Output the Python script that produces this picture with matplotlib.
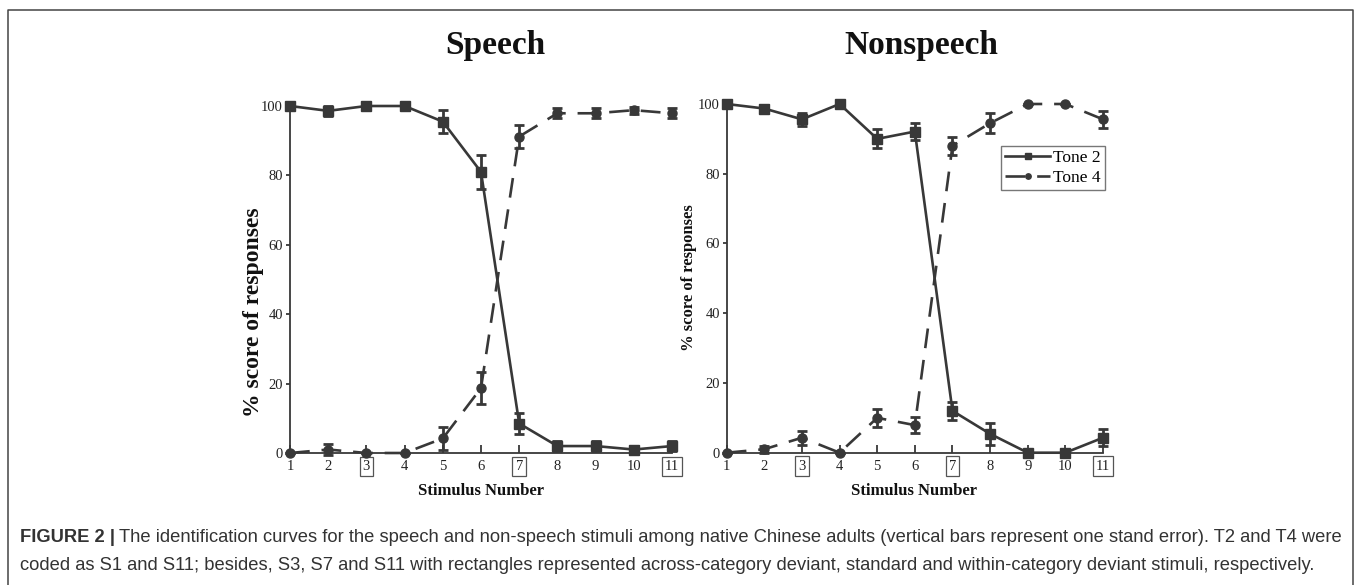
import matplotlib
matplotlib.use("Agg")
import matplotlib.pyplot as plt
from matplotlib.lines import Line2D
from matplotlib.text import Annotation

# identification scores (% responses) per stimulus, with standard errors
stimuli = [1, 2, 3, 4, 5, 6, 7, 8, 9, 10, 11]
boxed = [3, 7, 11]

speech_t2 = [100, 98.6, 100, 100, 95.5, 81, 8.5, 2, 2, 1, 2]
speech_t2_se = [0, 1.4, 0.5, 0, 3.4, 5, 3.1, 1.5, 1.5, 1, 1.5]
speech_t4 = [0, 1, 0, 0, 4.2, 18.7, 91.2, 97.9, 97.9, 98.8, 97.9]
speech_t4_se = [0, 1.5, 0, 0, 3.4, 4.6, 3.3, 1.5, 1.5, 1, 1.5]

nonsp_t2 = [100, 98.7, 95.6, 100, 90, 92.1, 12, 5.4, 0, 0, 4.3]
nonsp_t2_se = [0, 1, 1.9, 0, 2.7, 2.4, 2.6, 3.1, 0, 0, 2.5]
nonsp_t4 = [0, 1, 4.3, 0, 10, 7.9, 88, 94.5, 100, 100, 95.6]
nonsp_t4_se = [0, 1, 2, 0, 2.5, 2.2, 2.5, 2.9, 0, 0, 2.5]

ink = "#383838"
serif = "Liberation Serif"

W, H = 1358, 585
fig = plt.figure(figsize=(W / 100, H / 100), dpi=100)

def px(x0, y0, x1, y1):
    return [x0 / W, 1 - y1 / H, (x1 - x0) / W, (y1 - y0) / H]

def panel(rect, t2, t2_se, t4, t4_se):
    ax = fig.add_axes(rect)
    c4 = ax.errorbar(stimuli, t4, yerr=t4_se, color=ink, lw=1.9, dashes=(7.5, 4.5),
                     marker="o", ms=6.5, capsize=3.6, capthick=2, elinewidth=2,
                     clip_on=False, zorder=3)
    c2 = ax.errorbar(stimuli, t2, yerr=t2_se, color=ink, lw=1.9,
                     marker="s", ms=6.5, capsize=3.6, capthick=2, elinewidth=2,
                     clip_on=False, zorder=4)
    ax.set_xlim(1, 11)
    ax.set_ylim(0, 100)
    ax.set_xticks(stimuli)
    ax.set_yticks([0, 20, 40, 60, 80, 100])
    for s in ["top", "right"]:
        ax.spines[s].set_visible(False)
    for s in ["left", "bottom"]:
        ax.spines[s].set_color(ink)
        ax.spines[s].set_linewidth(1.3)
    ax.tick_params(axis="x", direction="in", length=6, width=1.3, color=ink,
                   labelsize=10.5, labelcolor="#222", pad=5)
    ax.tick_params(axis="y", direction="out", length=3, width=1.3, color=ink,
                   labelsize=10.5, labelcolor="#222", pad=2)
    for lab in ax.get_xticklabels() + ax.get_yticklabels():
        lab.set_fontfamily(serif)
    for lab, s in zip(ax.get_xticklabels(), stimuli):
        if s in boxed:
            lab.set_bbox(dict(boxstyle="square,pad=0.22", fc="none",
                              ec="#555", lw=0.9))
    return ax, c2, c4

ax1, _, _ = panel(px(290, 106, 672, 453), speech_t2, speech_t2_se, speech_t4, speech_t4_se)
ax2, c2, c4 = panel(px(726.7, 104, 1103, 452.7), nonsp_t2, nonsp_t2_se, nonsp_t4, nonsp_t4_se)

leg = ax2.legend([c2.lines[0], c4.lines[0]], ["Tone 2", "Tone 4"],
                 loc="upper right", bbox_to_anchor=(1.005, 0.88),
                 borderaxespad=0, frameon=True, fancybox=False, edgecolor="#555",
                 handlelength=2.6, handletextpad=0.15, borderpad=0.25,
                 labelspacing=0.2, markerscale=0.6,
                 prop={"family": serif, "size": 12.5})
leg.get_frame().set_linewidth(1.0)

# panel titles and axis labels
fig.text(495 / W, 1 - 54 / H, "Speech", family=serif, weight="bold", size=24,
         ha="center", va="baseline", color="#111")
fig.text(921 / W, 1 - 54 / H, "Nonspeech", family=serif, weight="bold", size=24,
         ha="center", va="baseline", color="#111")
fig.text(253 / W, 1 - 312 / H, "% score of responses", family=serif, weight="bold",
         size=17, rotation=90, ha="center", va="center", color="#111")
fig.text(689 / W, 1 - 278 / H, "% score of responses", family=serif, weight="bold",
         size=12, rotation=90, ha="center", va="center", color="#111")
fig.text(481 / W, 1 - 491 / H, "Stimulus Number", family=serif, weight="bold",
         size=12, ha="center", va="center", color="#111")
fig.text(914 / W, 1 - 491 / H, "Stimulus Number", family=serif, weight="bold",
         size=12, ha="center", va="center", color="#111")

# outer frame, open at the bottom
fx0, fx1, fy = 8 / W, 1353 / W, 1 - 10 / H
fig.add_artist(Line2D([fx0, fx0, fx1, fx1], [0, fy, fy, 0], color="#444", lw=1.1))

# caption
cap_kw = dict(family="Liberation Sans", size=13.2, color="#333")
head = fig.text(20 / W, 1 - 537 / H, "FIGURE 2 |", weight="bold", va="center", **cap_kw)
fig.add_artist(Annotation(
    "The identification curves for the speech and non-speech stimuli among native "
    "Chinese adults (vertical bars represent one stand error). T2 and T4 were",
    xy=(1, 0.5), xycoords=head, xytext=(3, 0), textcoords="offset points",
    va="center", ha="left", **cap_kw))
fig.text(20 / W, 1 - 566 / H,
         "coded as S1 and S11; besides, S3, S7 and S11 with rectangles represented "
         "across-category deviant, standard and within-category deviant stimuli, "
         "respectively.", va="center", **cap_kw)

fig.savefig("out.png", dpi=100)
